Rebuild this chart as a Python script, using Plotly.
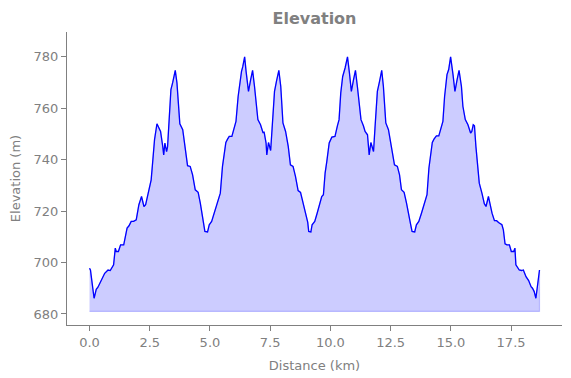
import plotly.graph_objects as go

distance_km = [
    0.00, 0.04, 0.19, 0.28, 0.35, 0.49, 0.63, 0.77, 0.86, 1.00,
    1.07, 1.11, 1.20, 1.29, 1.42, 1.56, 1.64, 1.73, 1.83, 1.94,
    2.05, 2.16, 2.26, 2.33, 2.43, 2.56, 2.63, 2.70, 2.80, 2.88,
    2.95, 3.04, 3.08, 3.13, 3.20, 3.24, 3.38, 3.45, 3.56, 3.63,
    3.68, 3.75, 3.87, 3.96, 4.07, 4.18, 4.28, 4.39, 4.51, 4.60,
    4.69, 4.79, 4.90, 4.97, 5.07, 5.18, 5.29, 5.38, 5.43, 5.52,
    5.59, 5.66, 5.73, 5.80, 5.91, 6.01, 6.08, 6.17, 6.25, 6.31,
    6.36, 6.44, 6.50, 6.60, 6.69, 6.77, 6.85, 6.92, 6.99, 7.10,
    7.20, 7.25, 7.33, 7.36, 7.43, 7.52, 7.58, 7.68, 7.76, 7.86,
    7.94, 8.03, 8.14, 8.25, 8.34, 8.45, 8.55, 8.66, 8.76, 8.86,
    8.97, 9.06, 9.10, 9.19, 9.24, 9.35, 9.45, 9.55, 9.64, 9.71,
    9.78, 9.85, 9.95, 10.06, 10.19, 10.29, 10.36, 10.43, 10.51, 10.61,
    10.71, 10.79, 10.87, 10.96, 11.04, 11.12, 11.21, 11.27, 11.37, 11.44,
    11.54, 11.61, 11.68, 11.79, 11.85, 11.95, 12.04, 12.13, 12.20, 12.30,
    12.41, 12.51, 12.66, 12.78, 12.87, 12.95, 13.06, 13.16, 13.25, 13.32,
    13.39, 13.50, 13.57, 13.67, 13.78, 13.89, 13.96, 14.01, 14.09, 14.16,
    14.23, 14.30, 14.40, 14.50, 14.58, 14.67, 14.74, 14.84, 14.91, 14.99,
    15.09, 15.17, 15.26, 15.34, 15.44, 15.50, 15.60, 15.71, 15.82, 15.87,
    15.93, 15.98, 16.04, 16.11, 16.18, 16.29, 16.39, 16.46, 16.56, 16.62,
    16.71, 16.81, 16.90, 16.98, 17.12, 17.18, 17.25, 17.33, 17.43, 17.51,
    17.61, 17.66, 17.70, 17.84, 17.94, 18.01, 18.12, 18.23, 18.33, 18.39,
    18.46, 18.53, 18.61, 18.68,
]

elevation_m = [
    697.8, 697.1, 686.1, 689.6, 690.4, 693.2, 695.8, 697.1, 696.9, 699.1,
    705.6, 704.3, 704.3, 706.9, 706.9, 713.4, 714.3, 716.0, 716.0, 716.6,
    722.5, 725.7, 721.8, 722.5, 726.4, 732.2, 740.0, 747.8, 754.0, 752.7,
    751.0, 745.2, 741.9, 746.5, 743.2, 745.0, 767.3, 769.9, 774.8, 769.9,
    763.4, 754.0, 751.7, 745.2, 737.7, 737.4, 734.1, 728.3, 727.3, 723.1,
    717.9, 712.1, 711.9, 714.7, 716.0, 719.2, 722.9, 725.7, 727.0, 737.4,
    741.3, 746.7, 748.0, 749.1, 749.1, 752.3, 754.9, 764.6, 771.0, 774.4,
    776.1, 780.0, 774.4, 766.6, 771.2, 774.8, 768.5, 760.8, 755.6, 753.6,
    750.6, 750.7, 746.5, 741.9, 746.7, 743.6, 753.0, 766.6, 770.5, 774.8,
    768.5, 754.3, 751.0, 745.2, 738.0, 737.4, 733.5, 728.0, 727.3, 723.1,
    719.2, 715.6, 712.1, 711.9, 714.7, 716.0, 719.2, 722.5, 725.7, 726.4,
    734.8, 739.3, 746.5, 748.8, 749.1, 753.2, 755.6, 766.0, 772.4, 775.7,
    780.0, 773.8, 766.6, 771.2, 774.8, 768.5, 759.5, 755.6, 753.2, 751.0,
    749.7, 741.9, 746.7, 743.2, 752.3, 766.6, 770.5, 774.8, 768.5, 754.3,
    751.7, 745.8, 738.0, 737.4, 734.1, 728.3, 727.3, 723.1, 717.9, 715.3,
    712.1, 711.9, 714.7, 716.0, 719.2, 722.9, 725.7, 726.4, 736.8, 741.3,
    746.7, 748.0, 749.3, 749.3, 752.3, 754.9, 764.6, 773.1, 775.1, 780.0,
    773.1, 766.6, 771.2, 774.8, 768.5, 760.8, 755.6, 753.6, 750.4, 751.0,
    753.6, 753.2, 745.2, 736.1, 730.9, 727.0, 722.9, 721.8, 725.7, 723.1,
    719.2, 716.3, 716.3, 715.6, 714.7, 712.7, 707.3, 706.9, 706.9, 704.3,
    704.3, 705.6, 699.1, 697.1, 696.9, 697.1, 694.5, 693.0, 690.6, 690.0,
    688.7, 686.1, 692.0, 697.1,
]

fill_base_m = 681.0

x_ticks = [0, 2.5, 5, 7.5, 10, 12.5, 15, 17.5]
x_tick_labels = ["0.0", "2.5", "5.0", "7.5", "10.0", "12.5", "15.0", "17.5"]
y_ticks = [680, 700, 720, 740, 760, 780]
y_tick_labels = ["680", "700", "720", "740", "760", "780"]

GRAY = "#808080"
FONT = "DejaVu Sans"

poly_x = distance_km + distance_km[::-1]
poly_y = elevation_m + [fill_base_m] * len(distance_km)

fig = go.Figure()
fig.add_trace(go.Scatter(
    x=poly_x, y=poly_y, mode="lines", fill="toself",
    fillcolor="rgba(0,0,255,0.2)",
    line=dict(color="rgba(0,0,255,0.2)", width=1.2),
    hoverinfo="skip", showlegend=False,
))
fig.add_trace(go.Scatter(
    x=distance_km, y=elevation_m, mode="lines",
    line=dict(color="#0000ff", width=1.3),
    showlegend=False,
))

x_pad = 0.05 * (distance_km[-1] - distance_km[0])
fig.update_layout(
    width=563, height=370,
    margin=dict(l=59, r=9, t=24, b=53),
    paper_bgcolor="white", plot_bgcolor="white",
    font=dict(family=FONT, size=13, color=GRAY),
    title=dict(text="<b>Elevation</b>", x=(59 + 247.5) / 563, xanchor="center",
               y=1 - 10 / 370, yanchor="middle",
               font=dict(family=FONT, size=16, color=GRAY)),
    xaxis=dict(
        range=[distance_km[0] - x_pad, distance_km[-1] + x_pad],
        tickvals=x_ticks, ticktext=x_tick_labels,
        showline=True, linecolor=GRAY, linewidth=1,
        ticks="outside", ticklen=5, tickcolor=GRAY, tickwidth=1,
        showgrid=False, zeroline=False,
        title=dict(text="Distance (km)", standoff=12, font=dict(size=13, color=GRAY)),
        automargin=False,
    ),
    yaxis=dict(
        range=[675.7, 789.7],
        tickvals=y_ticks, ticktext=y_tick_labels,
        showline=True, linecolor=GRAY, linewidth=1,
        ticks="outside", ticklen=5, tickcolor=GRAY, tickwidth=1,
        showgrid=False, zeroline=False,
        title=dict(text="Elevation (m)", standoff=11, font=dict(size=13, color=GRAY)),
        automargin=False,
    ),
)

fig.write_html("out.html")
